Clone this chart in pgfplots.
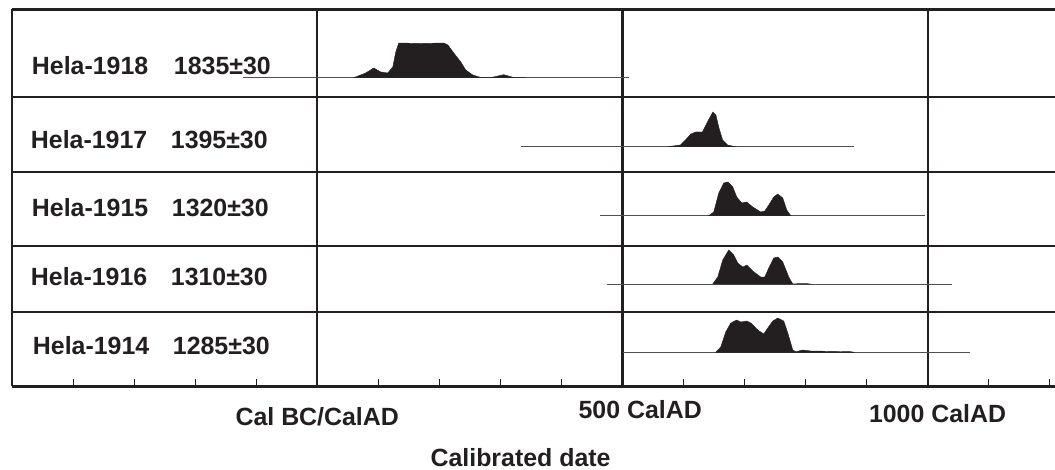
\documentclass[border=0pt]{standalone}
\usepackage{pgfplots}
\pgfplotsset{compat=1.18}
\usepackage{fontspec}
\setmainfont{Liberation Sans}
\definecolor{ink}{HTML}{231F20}
\definecolor{rng}{HTML}{505050}

\begin{document}
\begin{tikzpicture}[font=\bfseries\fontsize{25}{29}\selectfont]
\begin{axis}[
  at={(0,0)}, anchor=south west,
  scale only axis, width=1043bp, height=376.5bp,
  xmin=-500, xmax=1208.4, ymin=0, ymax=376.5,
  axis line style={draw=none},
  xtick={-400,-300,-200,-100,100,200,300,400,600,700,800,900,1100,1200},
  xticklabels={}, xtick pos=bottom, tick align=inside,
  major tick length=7bp, tick style={ink, line width=0.8bp},
  ytick=\empty,
  extra x ticks={0,500,1000}, extra x tick labels={},
  extra x tick style={grid=major, major grid style={ink, line width=2.3bp}, major tick length=0pt},
  extra y ticks={74,140,214,289}, extra y tick labels={},
  extra y tick style={grid=major, major grid style={ink, line width=2.3bp}, major tick length=0pt},
  clip=false,
]
% ranges
\addplot[rng, line width=1bp] coordinates {(-121,308.3) (510,308.3)};
\addplot[rng, line width=1bp] coordinates {(333,239.3) (879,239.3)};
\addplot[rng, line width=1bp] coordinates {(463,170.3) (995,170.3)};
\addplot[rng, line width=1bp] coordinates {(474,102) (1039,102)};
\addplot[rng, line width=1bp] coordinates {(501,33.7) (1069,33.7)};

% Hela-1918
\addplot[fill=ink, draw=ink, line width=0.4bp] coordinates {
 (59.8,308.3) (79.4,313) (92.5,318) (104.0,314) (115.5,313) (123.7,319) (128.6,334) (133.5,343)
 (169.5,342.5) (207.2,343) (214,341) (223.6,333) (235.1,324) (243.2,316) (254.7,311) (267.8,308.5)
 (284.2,308.4) (305.5,311.3) (321.9,308.5) (341.5,308.3)} -- cycle;
% Hela-1917
\addplot[fill=ink, draw=ink, line width=0.4bp] coordinates {
 (574,239.3) (595,241) (603,246) (612,252) (620,254) (631,254) (639,264) (648,274)
 (653,271) (658,258) (664,246) (672,241) (685,239.3)} -- cycle;
% Hela-1915
\addplot[fill=ink, draw=ink, line width=0.4bp] coordinates {
 (641.3,170.3) (649.5,174) (657.7,193) (665.8,203) (672.4,204) (680.6,199) (687.1,189)
 (695.3,183) (703.5,184) (713.3,179) (726.4,174) (733.0,175) (739.6,181) (747.7,189)
 (754.3,192) (762.5,188) (769.0,176) (775.6,170.3)} -- cycle;
% Hela-1916
\addplot[fill=ink, draw=ink, line width=0.4bp] coordinates {
 (647.8,102) (656.0,109) (664.2,126) (674.0,136) (682.2,131) (688.8,123) (697.0,119)
 (703.5,121) (713.3,115) (726.4,109) (733.0,109) (739.6,118) (747.7,128) (754.3,129)
 (762.5,124) (772.3,109) (778.9,102) (788.7,102.4) (803.4,102.3) (808,102)} -- cycle;
% Hela-1914
\addplot[fill=ink, draw=ink, line width=0.4bp] coordinates {
 (652.7,33.7) (660.9,39) (669.1,54) (677.3,63) (687.1,66) (693.7,64) (703.5,65) (710.1,63)
 (721.5,56) (731.4,52) (737.9,58) (746.1,65) (754.3,68) (764.1,65) (770.7,53) (778.9,36)
 (783.8,34.3) (795.2,36) (808.4,35) (873.9,34.3) (880,33.7)} -- cycle;

% frame
\draw[ink, line width=3bp] (rel axis cs:0,1) -- (rel axis cs:1,1);
\draw[ink, line width=3bp] (rel axis cs:0,0) -- (rel axis cs:1,0);
\draw[ink, line width=2.5bp] (rel axis cs:0,0) -- (rel axis cs:0,1);

% row labels
\node[ink, anchor=base west, inner sep=0] at (axis cs:-467.6,311) {Hela-1918};
\node[ink, anchor=base west, inner sep=0] at (axis cs:-235,311) {1835±30};
\node[ink, anchor=base west, inner sep=0] at (axis cs:-469.3,237.7) {Hela-1917};
\node[ink, anchor=base west, inner sep=0] at (axis cs:-240,237.7) {1395±30};
\node[ink, anchor=base west, inner sep=0] at (axis cs:-467.6,169.3) {Hela-1915};
\node[ink, anchor=base west, inner sep=0] at (axis cs:-238.4,169.3) {1320±30};
\node[ink, anchor=base west, inner sep=0] at (axis cs:-469.3,101) {Hela-1916};
\node[ink, anchor=base west, inner sep=0] at (axis cs:-240,101) {1310±30};
\node[ink, anchor=base west, inner sep=0] at (axis cs:-466,31.7) {Hela-1914};
\node[ink, anchor=base west, inner sep=0] at (axis cs:-236.7,31.7) {1285±30};

% axis labels
\node[ink, anchor=base, inner sep=0] at (axis cs:0,-39) {Cal BC/CalAD};
\node[ink, anchor=base, inner sep=0] at (axis cs:529,-32) {500 CalAD};
\node[ink, anchor=base, inner sep=0] at (axis cs:1016,-36) {1000 CalAD};
\node[ink, anchor=base, inner sep=0] at (axis cs:333,-80) {Calibrated date};
\end{axis}
\pgfresetboundingbox
\path (-12bp,-84bp) rectangle (1043bp,386bp);
\end{tikzpicture}
\end{document}
